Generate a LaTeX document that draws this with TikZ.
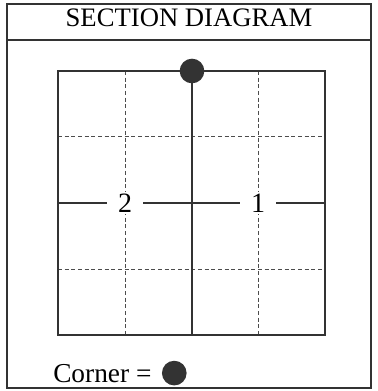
\documentclass[tikz,border=0pt]{standalone}
\usepackage{fontspec}
\setmainfont{Liberation Serif}
\usetikzlibrary{positioning}

\begin{document}
\begin{tikzpicture}[
  x=0.75pt, y=-0.75pt,
  frame/.style={draw=black!80, line width=1.6pt},
  wall/.style={draw=black!80, line width=1.8pt},
  guide/.style={draw=black!70, line width=0.75pt, dash pattern=on 3pt off 2pt},
  num/.style={fill=white, inner sep=0pt, minimum width=27pt, minimum height=17pt,
              font=\fontsize{21}{24}\selectfont},
  corner/.style={circle, fill=black!80, minimum size=18.5pt, inner sep=0pt},
  legend/.style={inner sep=0pt, font=\fontsize{20.5}{24}\selectfont},
]
\useasboundingbox (0,0) rectangle (377,391);

% Outer frame and title bar
\draw[frame] (7,4) rectangle (371,388);
\draw[frame] (7,40) -- (371,40);
\node[anchor=base, inner sep=0pt, font=\fontsize{20}{24}\selectfont] (title) at (189,27) {SECTION DIAGRAM};

% Grid corners
\coordinate (nw) at (58,71);
\coordinate (se) at (325,335);
\coordinate (top) at (192,71);
\coordinate (bot) at (192,335);
\coordinate (left) at (58,203);
\coordinate (right) at (325,203);

% Dashed quarter lines
\draw[guide] (125,71) -- (125,335);
\draw[guide] (258,71) -- (258,335);
\draw[guide] (58,137) -- (325,137);
\draw[guide] (58,269) -- (325,269);

% Section numbers
\node[num] (sec2) at (125,203) {2};
\node[num] (sec1) at (258,203) {1};

% Walls
\draw[wall] (nw) rectangle (se);
\draw[wall] (top) -- (bot);
\draw[wall] (left) -- (sec2);
\draw[wall] (sec2) -- (sec1);
\draw[wall] (sec1) -- (right);

% Corner marker
\node[corner] (mark) at (top) {};

% Legend
\node[legend, anchor=base west] (key) at (53,382) {Corner =};
\node[corner, right=7.5pt of key] (keydot) {};

\end{tikzpicture}
\end{document}
